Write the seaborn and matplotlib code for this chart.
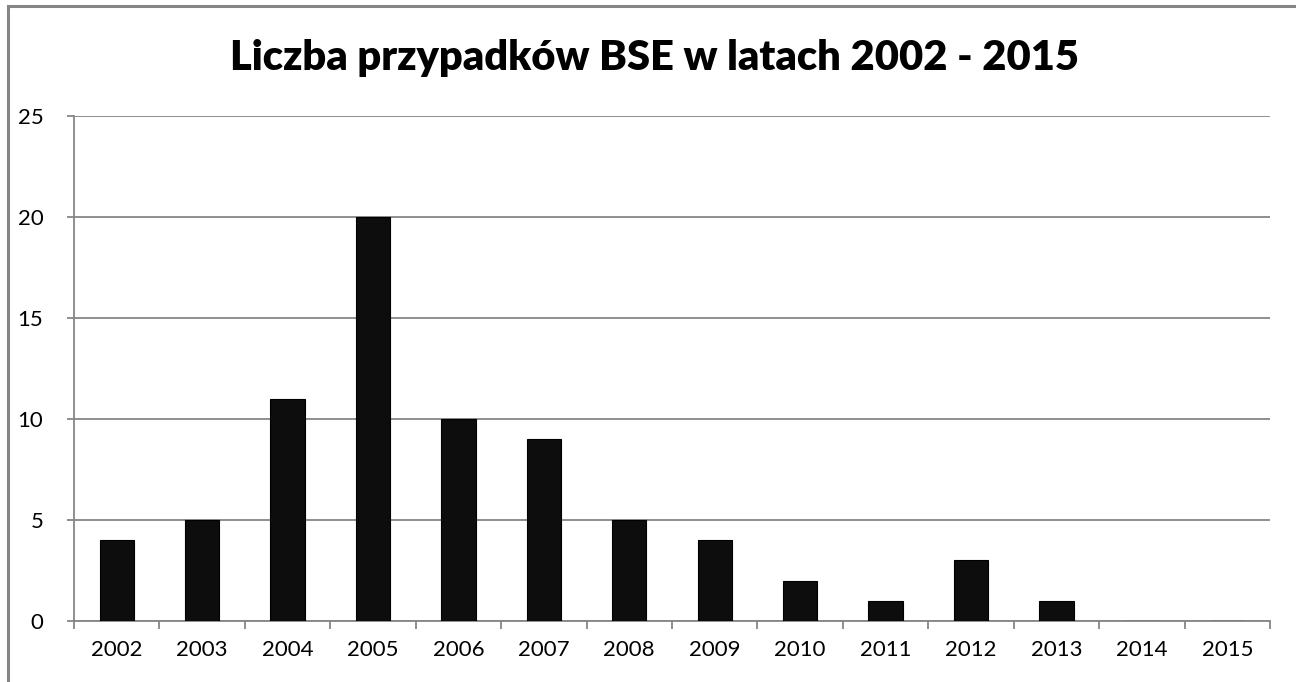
import matplotlib
matplotlib.use("Agg")
import matplotlib.pyplot as plt
import seaborn as sns
import pandas as pd
from matplotlib.patches import Rectangle
from matplotlib.ticker import MultipleLocator

years = ["2002", "2003", "2004", "2005", "2006", "2007", "2008",
         "2009", "2010", "2011", "2012", "2013", "2014", "2015"]
cases = [4, 5, 11, 20, 10, 9, 5, 4, 2, 1, 3, 1, 0, 0]
title = "Liczba przypadków BSE w latach 2002 - 2015"

df = pd.DataFrame({"rok": years, "liczba": cases})

sns.set_theme(style="white")
plt.rcParams['font.family'] = ['Lato', 'DejaVu Sans']

grey = "#868686"
fig = plt.figure(figsize=(12.96, 6.82), dpi=100)
ax = fig.add_axes([74 / 1296, 61 / 682, 1196 / 1296, 505 / 682])

sns.barplot(data=df, x="rok", y="liczba", color="#0d0d0d", width=0.4,
            saturation=1, edgecolor="#000000", linewidth=0.8, ax=ax, zorder=3)

ax.set_xlim(-0.5, len(years) - 0.5)
ax.set_ylim(0, 25)
ax.yaxis.set_major_locator(MultipleLocator(5))
ax.grid(axis="y", color=grey, linewidth=1.3, zorder=0)
ax.set_axisbelow(True)

for side in ["top", "right"]:
    ax.spines[side].set_visible(False)
for side in ["left", "bottom"]:
    ax.spines[side].set_color(grey)
    ax.spines[side].set_linewidth(1.3)

ax.set_xticks([i - 0.5 for i in range(len(years) + 1)], minor=True)
ax.tick_params(axis="x", which="major", length=0, pad=14, labelsize=16, colors="black")
ax.tick_params(axis="x", which="minor", length=6, width=1.3, color=grey, direction="out", bottom=True)
ax.tick_params(axis="y", which="major", length=5, width=1.3, color=grey, direction="out",
               pad=17, labelsize=16, left=True, colors="black")
ax.tick_params(axis="y", colors=grey, labelcolor="black")
ax.set_xlabel("")
ax.set_ylabel("")

fig.text(0.505, 1 - 58 / 682, title, ha="center", va="center",
         fontsize=30, fontweight="heavy", color="black")

# chart border (top and left visible, rest cropped)
fig.patches.append(Rectangle((8 / 1296, -0.1), 1.2, 1 - 6 / 682 + 0.1,
                             transform=fig.transFigure, fill=False,
                             edgecolor=grey, linewidth=2.2))

plt.savefig("out.png", dpi=100)
